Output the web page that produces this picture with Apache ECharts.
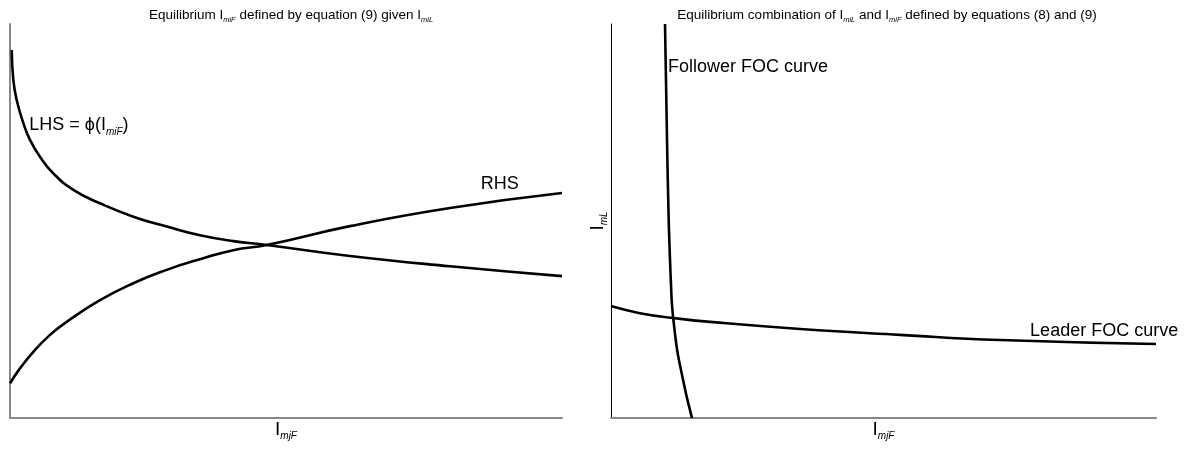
<!DOCTYPE html>
<html>
<head>
<meta charset="utf-8">
<script src="https://cdn.jsdelivr.net/npm/echarts@6/dist/echarts.min.js"></script>
<style>
  html, body { margin: 0; padding: 0; background: #fff; }
  #chart { width: 1188px; height: 451px; }
</style>
</head>
<body>
<div id="chart"></div>
<script>
// Left panel: LHS = phi(I_miF) and RHS of equation (9), in arbitrary units (0-100)
const lhsX = [0.31, 0.60, 1.21, 2.41, 3.62, 5.43, 7.84, 11.47, 16.30, 22.34, 28.39, 34.42, 40.45, 46.50, 61.59, 79.71, 100];
const lhsY = [93.4, 85.8, 80.7, 74.9, 70.6, 66.3, 62.1, 57.9, 54.5, 51.1, 48.6, 46.4, 44.9, 43.9, 41.1, 38.5, 36.0];
const rhsX = [0, 1.81, 4.22, 7.25, 10.27, 16.30, 22.34, 28.39, 34.42, 40.45, 46.50, 61.59, 79.71, 100];
const rhsY = [8.8, 12.6, 16.8, 21.1, 24.4, 29.9, 34.2, 37.6, 40.3, 42.6, 43.9, 48.7, 53.3, 57.1];

// Right panel: follower and leader first-order-condition curves
const followerX = [9.91, 10.09, 10.28, 10.46, 10.64, 10.83, 11.01, 11.19, 11.56, 11.93, 12.29, 12.84, 13.39, 13.94, 14.50, 14.86];
const followerY = [100, 85.8, 70.6, 57.9, 47.7, 40.1, 33.8, 28.7, 23.6, 19.3, 16.0, 12.2, 8.6, 5.1, 2.0, 0];
const leaderX = [0, 5.3, 11.4, 18.2, 34.7, 53.0, 71.4, 100];
const leaderY = [28.4, 26.6, 25.4, 24.4, 22.6, 21.1, 19.8, 18.8];

// Curve labels: [text, x, y]
const lhsLabel = ['{b|LHS = \u03d5(I}{s|miF}{b|)}', 3.5, 74.0];
const rhsLabel = ['{b|RHS}', 85.3, 59.1];
const followerLabel = ['{b|Follower FOC curve}', 10.46, 88.6];
const leaderLabel = ['{b|Leader FOC curve}', 76.9, 21.8];

const leftTitle = '{b|Equilibrium I}{s|miF}{b| defined by equation (9) given I}{s|miL}';
const rightTitle = '{b|Equilibrium combination of I}{s|miL}{b| and I}{s|miF}{b| defined by equations (8) and (9)}';
const xName = '{b|I}{s|mjF}';
const yName = '{b|I}{s|mL}';

const FONT = 'Liberation Sans, Arial, sans-serif';

function pairs(xs, ys) { return xs.map((x, i) => [x, ys[i]]); }

const titleRich = {
  b: { fontFamily: FONT, fontSize: 13.5, fontWeight: 'normal', color: '#000', lineHeight: 16, verticalAlign: 'top' },
  s: { fontFamily: FONT, fontSize: 7.5, fontWeight: 'normal', fontStyle: 'italic', color: '#000', lineHeight: 8, padding: [8, 0, 0, 0], verticalAlign: 'top' }
};
const nameRich = {
  b: { fontFamily: FONT, fontSize: 19, color: '#000', lineHeight: 21, verticalAlign: 'top' },
  s: { fontFamily: FONT, fontSize: 10, fontStyle: 'italic', color: '#000', lineHeight: 10, padding: [11, 0, 0, 0], verticalAlign: 'top' }
};
const labelRich = {
  b: { fontFamily: FONT, fontSize: 18, color: '#000', lineHeight: 21, verticalAlign: 'top' },
  s: { fontFamily: FONT, fontSize: 10, fontStyle: 'italic', color: '#000', lineHeight: 10, padding: [11, 0, 0, 0], verticalAlign: 'top' }
};

function labelPoint(lbl) {
  return {
    symbol: 'circle',
    symbolSize: 0,
    silent: true,
    animation: false,
    label: {
      show: true,
      position: [0, 0],
      align: 'left',
      verticalAlign: 'middle',
      formatter: lbl[0],
      rich: labelRich
    },
    data: [{ coord: [lbl[1], lbl[2]] }]
  };
}

function curve(name, xi, yi, xs, ys, lbl) {
  return {
    name: name,
    type: 'line',
    xAxisIndex: xi,
    yAxisIndex: yi,
    data: pairs(xs, ys),
    smooth: 0.5,
    showSymbol: false,
    symbol: 'none',
    lineStyle: { color: '#000', width: 2.6, join: 'round', cap: 'butt' },
    markPoint: labelPoint(lbl)
  };
}

const gray = { show: true, onZero: false, lineStyle: { color: '#888', width: 2 } };
const black = { show: true, onZero: false, lineStyle: { color: '#000', width: 1 } };

function valueAxis(gridIndex, line, extra) {
  return Object.assign({
    type: 'value', gridIndex: gridIndex, min: 0, max: 100,
    axisLine: line, axisTick: { show: false }, axisLabel: { show: false },
    splitLine: { show: false }
  }, extra || {});
}

const chart = echarts.init(document.getElementById('chart'), null, { renderer: 'canvas' });
chart.setOption({
  animation: false,
  backgroundColor: '#fff',
  title: [
    { text: leftTitle, left: 286, top: 3, textAlign: 'center', textStyle: { fontWeight: 'normal', rich: titleRich } },
    { text: rightTitle, left: 882, top: 3, textAlign: 'center', textStyle: { fontWeight: 'normal', rich: titleRich } }
  ],
  grid: [
    { left: 10, top: 24, width: 552, height: 394 },
    { left: 611, top: 24, width: 545, height: 394 }
  ],
  xAxis: [
    valueAxis(0, gray, { name: xName, nameLocation: 'middle', nameGap: 2, nameTextStyle: { rich: nameRich } }),
    valueAxis(1, gray, { name: xName, nameLocation: 'middle', nameGap: 2, nameTextStyle: { rich: nameRich } })
  ],
  yAxis: [
    valueAxis(0, gray),
    valueAxis(1, black, { name: yName, nameLocation: 'middle', nameRotate: 90, nameGap: 2, nameTextStyle: { rich: nameRich } })
  ],
  series: [
    curve('LHS', 0, 0, lhsX, lhsY, lhsLabel),
    curve('RHS', 0, 0, rhsX, rhsY, rhsLabel),
    curve('Follower FOC curve', 1, 1, followerX, followerY, followerLabel),
    curve('Leader FOC curve', 1, 1, leaderX, leaderY, leaderLabel)
  ]
});
</script>
</body>
</html>
